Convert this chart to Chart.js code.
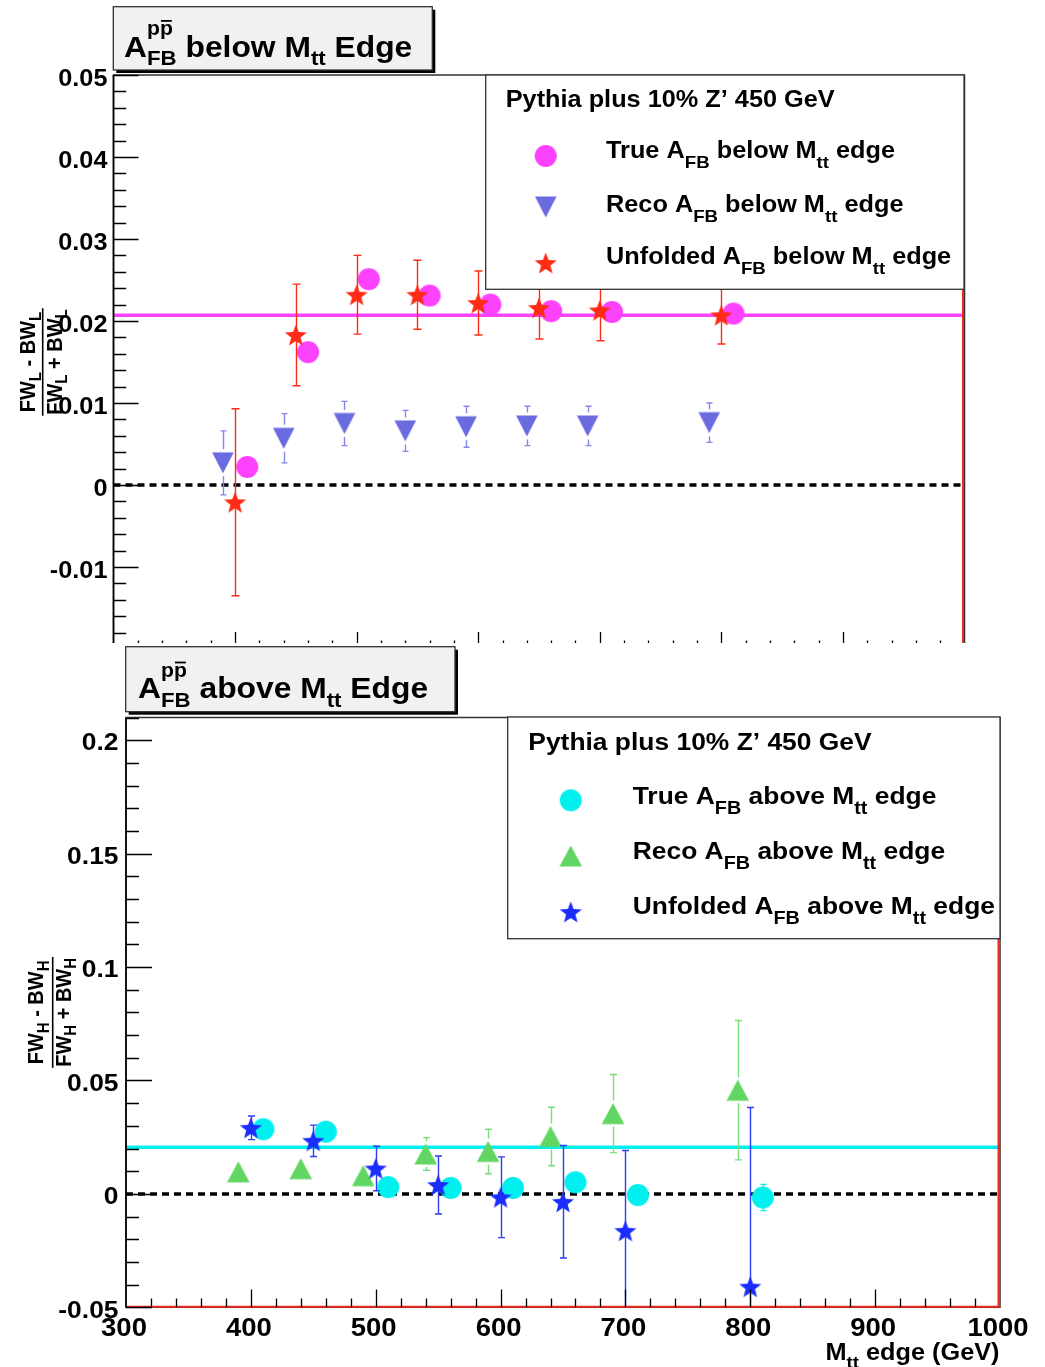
<!DOCTYPE html>
<html>
<head>
<meta charset="utf-8">
<script src="https://cdn.jsdelivr.net/npm/chart.js@4.4.1/dist/chart.umd.min.js"></script>
<style>
  html, body { margin: 0; padding: 0; background: #fff; }
  #wrap { position: relative; width: 1045px; height: 1367px; overflow: hidden; background: #fff; }
  #below { position: absolute; left: 0; top: 0; }
  #above { position: absolute; left: 0; top: 643px; background: #fff; }
</style>
</head>
<body>
<div id="wrap">
  <canvas id="below" width="1045" height="700"></canvas>
  <canvas id="above" width="1045" height="724"></canvas>
</div>
<script>
// ---------- values: asymmetry below the M_tt edge ----------
const trueBelowX   = [410, 460, 510, 560, 610, 660, 710, 810];
const trueBelowY   = [0.0022, 0.0162, 0.0251, 0.0231, 0.0220, 0.0212, 0.0211, 0.0209];
const recoBelowX   = [390, 440, 490, 540, 590, 640, 690, 790];
const recoBelowY   = [0.0027, 0.0057, 0.0075, 0.0066, 0.0071, 0.0072, 0.0072, 0.0076];
const recoBelowErr = [0.0039, 0.0030, 0.0027, 0.0025, 0.0025, 0.0024, 0.0024, 0.0024];
const unfBelowX    = [400, 450, 500, 550, 600, 650, 700, 800];
const unfBelowY    = [-0.0021, 0.0183, 0.0232, 0.0232, 0.0222, 0.0216, 0.0213, 0.0207];
const unfBelowErr  = [0.0114, 0.0062, 0.0048, 0.0042, 0.0039, 0.0038, 0.0037, 0.0035];
const trueBelowMean = 0.0207;

// ---------- values: asymmetry above the M_tt edge ----------
const trueAboveX   = [410, 460, 510, 560, 610, 660, 710, 810];
const trueAboveY   = [0.0285, 0.0274, 0.0030, 0.0026, 0.0026, 0.0051, -0.0005, -0.0016];
const trueAboveErr = [0, 0, 0, 0, 0, 0, 0, 0.0058];
const recoAboveX   = [390, 440, 490, 540, 590, 640, 690, 790];
const recoAboveY   = [0.0097, 0.0111, 0.0080, 0.0176, 0.0187, 0.0253, 0.0354, 0.0457];
const recoAboveErr = [0, 0, 0, 0.0072, 0.0098, 0.0129, 0.0172, 0.0307];
const unfAboveX    = [400, 450, 500, 550, 600, 650, 700, 800];
const unfAboveY    = [0.0291, 0.0234, 0.0112, 0.0039, -0.0015, -0.0035, -0.0163, -0.0409];
const unfAboveErr  = [0.0052, 0.0069, 0.0098, 0.0128, 0.0178, 0.0248, 0.0354, 0.0790];
const trueAboveMean = 0.0205;

// ---------- axes ----------
const massRange   = [300, 1000];
const massTicks   = [300, 400, 500, 600, 700, 800, 900, 1000];
const massMinor   = 20;
const belowRange  = [-0.02, 0.05];
const belowTicks  = [-0.02, -0.01, 0, 0.01, 0.02, 0.03, 0.04, 0.05];
const belowMinor  = 0.002;
const aboveRange  = [-0.05, 0.21];
const aboveTicks  = [-0.05, 0, 0.05, 0.1, 0.15, 0.2];
const aboveMinor  = 0.01;

const legendHeader = 'Pythia plus 10% Z\u2019 450 GeV';

// ---------- styling ----------
const FONT = '"Liberation Sans", Arial, Helvetica, sans-serif';
const SX = 1.1;
const MAGENTA = '#fd42fd', RECO_BLUE = '#6b6be0', RECO_BLUE_ERR = '#8585ea', RED = '#ff2b16';
const CYAN = '#00efef', GREEN = '#62d662', GREEN_ERR = '#79de79', BLUE = '#1b2dfc', BLUE_ERR = '#2c3df8';
const HIST_RED = '#ee2a1e';
function font(px) { return 'bold ' + px + 'px ' + FONT; }

function marker(shape, color) {
  const c = document.createElement('canvas');
  c.width = 26; c.height = 26;
  const g = c.getContext('2d');
  const cx = 13, cy = 13;
  g.fillStyle = color;
  g.beginPath();
  if (shape === 'circle') {
    g.arc(cx, cy, 11, 0, Math.PI * 2);
  } else if (shape === 'up') {
    g.moveTo(cx, cy - 10.5); g.lineTo(cx + 11.3, cy + 10.5); g.lineTo(cx - 11.3, cy + 10.5);
  } else if (shape === 'down') {
    g.moveTo(cx - 10.8, cy - 10.5); g.lineTo(cx + 10.8, cy - 10.5); g.lineTo(cx, cy + 10.5);
  } else {
    for (let k = 0; k < 10; k++) {
      const r = k % 2 ? 4.9 : 11.6;
      const ang = -Math.PI / 2 + k * Math.PI / 5;
      const px = cx + r * Math.cos(ang), py = cy + 1 + r * Math.sin(ang);
      if (k === 0) g.moveTo(px, py); else g.lineTo(px, py);
    }
  }
  g.closePath();
  g.fill();
  return c;
}

const mkTrueBelow = marker('circle', MAGENTA);
const mkRecoBelow = marker('down', RECO_BLUE);
const mkUnfBelow  = marker('star', RED);
const mkTrueAbove = marker('circle', CYAN);
const mkRecoAbove = marker('up', GREEN);
const mkUnfAbove  = marker('star', BLUE);

// Text with sub/superscripts, horizontally stretched by sx
function drawRich(ctx, parts, x, y, st) {
  const sx = st.sx == null ? SX : st.sx;
  const subSize = st.sub, supSize = st.sup || st.sub;
  let w = 0; const pos = [];
  for (const p of parts) {
    pos.push(w);
    if (p.t != null) { ctx.font = font(st.size); w += ctx.measureText(p.t).width; }
    else {
      ctx.font = font(subSize); const ws = p.sub ? ctx.measureText(p.sub).width : 0;
      ctx.font = font(supSize); const wp = p.sup ? ctx.measureText(p.sup).width : 0;
      w += Math.max(ws, wp);
    }
  }
  let x0 = 0;
  if (st.align === 'right') x0 = -w; else if (st.align === 'center') x0 = -w / 2;
  ctx.save();
  ctx.translate(x, y); ctx.scale(sx, 1);
  ctx.textAlign = 'left'; ctx.textBaseline = 'alphabetic';
  parts.forEach((p, i) => {
    const px = x0 + pos[i];
    if (p.t != null) { ctx.font = font(st.size); ctx.fillText(p.t, px, 0); return; }
    if (p.sub) { ctx.font = font(subSize); ctx.fillText(p.sub, px, st.subDy); }
    if (p.sup) {
      ctx.font = font(supSize); ctx.fillText(p.sup, px, st.supDy);
      if (p.bar) {
        const w1 = ctx.measureText(p.sup.slice(0, -1)).width, w2 = ctx.measureText(p.sup).width;
        ctx.fillRect(px + w1 + 1, st.supDy - supSize * 0.76, w2 - w1 - 2, 1.8);
      }
    }
  });
  ctx.restore();
  return w;
}

function fmtTick(v) { return Math.abs(v) < 1e-12 ? '0' : String(parseFloat(v.toFixed(4))); }

// Error bars drawn just before the markers of each dataset
const errorBars = {
  id: 'errorBars',
  beforeDatasetDraw(chart, args) {
    const ds = chart.data.datasets[args.index];
    if (!ds.errors) return;
    const ctx = chart.ctx, a = chart.chartArea, xs = chart.scales.x, ys = chart.scales.y;
    ctx.save();
    ctx.beginPath(); ctx.rect(a.left, a.top, a.right - a.left, a.bottom - a.top); ctx.clip();
    ctx.strokeStyle = ds.errorColor; ctx.lineWidth = 1.4;
    ds.data.forEach((p, i) => {
      const e = ds.errors[i];
      if (!e) return;
      const px = Math.round(xs.getPixelForValue(p.x)) + 0.5;
      const py = ys.getPixelForValue(p.y);
      const top = ys.getPixelForValue(p.y + e), bot = ys.getPixelForValue(p.y - e);
      const gap = ds.errorGap || 0, cw = ds.capWidth / 2;
      ctx.beginPath();
      if (py - gap > top) { ctx.moveTo(px, top); ctx.lineTo(px, py - gap); }
      if (py + gap < bot) { ctx.moveTo(px, py + gap); ctx.lineTo(px, bot); }
      ctx.moveTo(px - cw, top); ctx.lineTo(px + cw, top);
      ctx.moveTo(px - cw, bot); ctx.lineTo(px + cw, bot);
      ctx.stroke();
    });
    ctx.restore();
  }
};

// Frame, inward ticks, labels, title box, legend and axis titles
function makeFrame(cfg) {
  return {
    id: 'frame_' + cfg.name,
    afterDatasetsDraw(chart) {
      const ctx = chart.ctx, a = chart.chartArea, xs = chart.scales.x, ys = chart.scales.y;
      ctx.save();
      // outline
      ctx.strokeStyle = '#333'; ctx.lineWidth = 1.5;
      ctx.strokeRect(a.left, a.top, a.right - a.left, a.bottom - a.top);
      // histogram border along the x floor and at the upper edge
      ctx.strokeStyle = HIST_RED; ctx.lineWidth = 2;
      ctx.beginPath();
      ctx.moveTo(a.left, a.bottom - 0.5); ctx.lineTo(a.right - 1.5, a.bottom - 0.5); ctx.lineTo(a.right - 1.5, a.top);
      ctx.stroke();
      ctx.strokeStyle = '#000'; ctx.lineWidth = 1.6;
      ctx.beginPath(); ctx.moveTo(a.left, a.top); ctx.lineTo(a.left, a.bottom); ctx.stroke();

      // ticks
      ctx.lineWidth = 1.3; ctx.strokeStyle = '#000';
      ctx.beginPath();
      const [ymin, ymax] = cfg.yRange;
      const ny = Math.round((ymax - ymin) / cfg.yMinor);
      for (let k = 0; k <= ny; k++) {
        const v = ymin + k * cfg.yMinor;
        const major = cfg.yTicks.some(t => Math.abs(t - v) < cfg.yMinor / 10);
        const py = Math.round(ys.getPixelForValue(v)) + 0.5;
        ctx.moveTo(a.left, py); ctx.lineTo(a.left + (major ? cfg.yTickLen[0] : cfg.yTickLen[1]), py);
      }
      const nx = Math.round((massRange[1] - massRange[0]) / massMinor);
      for (let k = 1; k < nx; k++) {
        const v = massRange[0] + k * massMinor;
        const major = massTicks.includes(v);
        const px = Math.round(xs.getPixelForValue(v)) + 0.5;
        ctx.moveTo(px, a.bottom); ctx.lineTo(px, a.bottom - (major ? cfg.xTickLen[0] : cfg.xTickLen[1]));
      }
      ctx.stroke();

      // tick labels
      ctx.fillStyle = '#000';
      cfg.yTicks.forEach(t => {
        drawRich(ctx, [{ t: fmtTick(t) }], cfg.yLabel.right, ys.getPixelForValue(t) + cfg.yLabel.dy,
          { size: cfg.yLabel.size, align: 'right' });
      });
      if (cfg.xLabel) {
        massTicks.forEach(t => {
          drawRich(ctx, [{ t: String(t) }], xs.getPixelForValue(t) - 2, a.bottom + cfg.xLabel.dy,
            { size: cfg.xLabel.size, align: 'center' });
        });
      }
      if (cfg.xTitle) {
        drawRich(ctx, [{ t: 'M' }, { sub: 'tt' }, { t: ' edge (GeV)' }], cfg.xTitle.right, cfg.xTitle.base,
          { size: cfg.xTitle.size, sub: 17, subDy: 8, align: 'right' });
      }

      // y-axis title: fraction written bottom to top
      const T = cfg.yTitle, cy = (a.top + a.bottom) / 2;
      let wn = 0, wd = 0;
      ctx.save(); ctx.translate(T.numX, cy); ctx.scale(SX, 1); ctx.rotate(-Math.PI / 2);
      wn = drawRich(ctx, T.num, 0, 0, { size: T.size, sub: T.sub, subDy: T.subDy, sx: 1, align: 'center' });
      ctx.restore();
      ctx.save(); ctx.translate(T.denX, cy); ctx.scale(SX, 1); ctx.rotate(-Math.PI / 2);
      wd = drawRich(ctx, T.den, 0, 0, { size: T.size, sub: T.sub, subDy: T.subDy, sx: 1, align: 'center' });
      ctx.restore();
      const L = Math.max(wn, wd) + 2;
      ctx.fillRect(T.barX - 0.8, cy - L / 2, 1.6, L);

      // title box with drop shadow
      const B = cfg.titleBox;
      ctx.fillStyle = '#000'; ctx.fillRect(B.x + 3, B.y + 3, B.w, B.h);
      ctx.fillStyle = '#f1f1f1'; ctx.fillRect(B.x, B.y, B.w, B.h);
      ctx.strokeStyle = '#333'; ctx.lineWidth = 1.3; ctx.strokeRect(B.x, B.y, B.w, B.h);
      ctx.fillStyle = '#000';
      drawRich(ctx, B.parts, B.textX, B.base, { size: 30, sub: 21, subDy: 8.5, sup: 20, supDy: -21.5, sx: 1.06 });

      // legend
      const G = cfg.legend;
      ctx.fillStyle = '#fff'; ctx.fillRect(G.x, G.y, G.w, G.h);
      ctx.strokeStyle = '#333'; ctx.lineWidth = 1.3; ctx.strokeRect(G.x, G.y, G.w, G.h);
      ctx.fillStyle = '#000';
      drawRich(ctx, [{ t: legendHeader }], G.titleX, G.titleBase, { size: G.size });
      G.rows.forEach(r => {
        ctx.drawImage(r.img, G.markerX - r.img.width / 2, r.my - r.img.height / 2);
        drawRich(ctx, r.parts, G.textX, r.base, { size: G.size, sub: G.sub, subDy: G.subDy });
      });
      ctx.restore();
    }
  };
}

function pts(xs, ys) { return xs.map((x, i) => ({ x, y: ys[i] })); }

function hLine(y, color, dash) {
  return {
    type: 'line', data: [{ x: massRange[0], y }, { x: massRange[1], y }],
    borderColor: color, borderWidth: dash ? 3.5 : 3.5, borderDash: dash || [], pointRadius: 0,
    showLine: true, fill: false, order: dash ? 9 : 10
  };
}

function makeChart(canvas, datasets, yRange, pad, cfg) {
  return new Chart(canvas, {
    type: 'scatter',
    data: { datasets },
    options: {
      responsive: false, animation: false, devicePixelRatio: 1, events: [],
      layout: { padding: pad },
      scales: {
        x: { type: 'linear', min: massRange[0], max: massRange[1], display: false },
        y: { type: 'linear', min: yRange[0], max: yRange[1], display: false }
      },
      plugins: { legend: { display: false }, tooltip: { enabled: false }, title: { display: false } },
      elements: { point: { radius: 11, borderWidth: 0 } }
    },
    plugins: [errorBars, makeFrame(cfg)]
  });
}

// ---------- chart: below the edge ----------
makeChart(document.getElementById('below'), [
  hLine(trueBelowMean, MAGENTA),
  hLine(0, '#000', [7, 5]),
  { label: 'True', data: pts(trueBelowX, trueBelowY), pointStyle: mkTrueBelow, order: 3 },
  { label: 'Reco', data: pts(recoBelowX, recoBelowY), pointStyle: mkRecoBelow, order: 2,
    errors: recoBelowErr, errorColor: RECO_BLUE_ERR, errorGap: 13.5, capWidth: 6 },
  { label: 'Unfolded', data: pts(unfBelowX, unfBelowY), pointStyle: mkUnfBelow, order: 1,
    errors: unfBelowErr, errorColor: RED, errorGap: 0, capWidth: 8 }
], belowRange, { left: 113.5, right: 80.5, top: 75, bottom: 51 }, {
  name: 'below', yRange: belowRange, yTicks: belowTicks, yMinor: belowMinor,
  yTickLen: [25, 12.7], xTickLen: [17, 8.5],
  yLabel: { size: 23, right: 107.5, dy: 11.3 },
  xLabel: null, xTitle: null,
  yTitle: {
    numX: 35, denX: 61.5, barX: 42.7, size: 20, sub: 15, subDy: 5,
    num: [{ t: 'FW' }, { sub: 'L' }, { t: ' - BW' }, { sub: 'L' }],
    den: [{ t: 'FW' }, { sub: 'L' }, { t: ' + BW' }, { sub: 'L' }]
  },
  titleBox: {
    x: 113.3, y: 6.7, w: 319, h: 63.3, textX: 124, base: 56.7,
    parts: [{ t: 'A' }, { sub: 'FB', sup: 'pp', bar: true }, { t: ' below M' }, { sub: 'tt' }, { t: ' Edge' }]
  },
  legend: {
    x: 485.7, y: 75, w: 478.3, h: 214.3, size: 23, sub: 17, subDy: 10,
    titleX: 505.7, titleBase: 106.7, markerX: 545.7, textX: 606,
    rows: [
      { img: mkTrueBelow, my: 156, base: 158.3,
        parts: [{ t: 'True A' }, { sub: 'FB' }, { t: ' below M' }, { sub: 'tt' }, { t: ' edge' }] },
      { img: mkRecoBelow, my: 207, base: 211.7,
        parts: [{ t: 'Reco A' }, { sub: 'FB' }, { t: ' below M' }, { sub: 'tt' }, { t: ' edge' }] },
      { img: mkUnfBelow, my: 263, base: 264.3,
        parts: [{ t: 'Unfolded A' }, { sub: 'FB' }, { t: ' below M' }, { sub: 'tt' }, { t: ' edge' }] }
    ]
  }
});

// ---------- chart: above the edge ----------
makeChart(document.getElementById('above'), [
  hLine(trueAboveMean, CYAN),
  hLine(0, '#000', [7, 5]),
  { label: 'True', data: pts(trueAboveX, trueAboveY), pointStyle: mkTrueAbove, order: 3,
    errors: trueAboveErr, errorColor: CYAN, errorGap: 0, capWidth: 6 },
  { label: 'Reco', data: pts(recoAboveX, recoAboveY), pointStyle: mkRecoAbove, order: 2,
    errors: recoAboveErr, errorColor: GREEN_ERR, errorGap: 13, capWidth: 7 },
  { label: 'Unfolded', data: pts(unfAboveX, unfAboveY), pointStyle: mkUnfAbove, order: 1,
    errors: unfAboveErr, errorColor: BLUE_ERR, errorGap: 0, capWidth: 7 }
], aboveRange, { left: 126, right: 45, top: 74.5, bottom: 59.7 }, {
  name: 'above', yRange: aboveRange, yTicks: aboveTicks, yMinor: aboveMinor,
  yTickLen: [26, 13], xTickLen: [17.7, 8.8],
  yLabel: { size: 24, right: 118.5, dy: 10.3 },
  xLabel: { size: 25, dy: 28.2 },
  xTitle: { size: 23, right: 999.5, base: 717 },
  yTitle: {
    numX: 43.3, denX: 70.5, barX: 52.7, size: 20, sub: 15, subDy: 5,
    num: [{ t: 'FW' }, { sub: 'H' }, { t: ' - BW' }, { sub: 'H' }],
    den: [{ t: 'FW' }, { sub: 'H' }, { t: ' + BW' }, { sub: 'H' }]
  },
  titleBox: {
    x: 125.7, y: 3.7, w: 329.3, h: 65, textX: 138, base: 55.3,
    parts: [{ t: 'A' }, { sub: 'FB', sup: 'pp', bar: true }, { t: ' above M' }, { sub: 'tt' }, { t: ' Edge' }]
  },
  legend: {
    x: 507.7, y: 74, w: 492.3, h: 221.7, size: 24, sub: 18, subDy: 10,
    titleX: 528.3, titleBase: 107.3, markerX: 570.7, textX: 632.7,
    rows: [
      { img: mkTrueAbove, my: 157.3, base: 160.7,
        parts: [{ t: 'True A' }, { sub: 'FB' }, { t: ' above M' }, { sub: 'tt' }, { t: ' edge' }] },
      { img: mkRecoAbove, my: 213, base: 215.7,
        parts: [{ t: 'Reco A' }, { sub: 'FB' }, { t: ' above M' }, { sub: 'tt' }, { t: ' edge' }] },
      { img: mkUnfAbove, my: 269, base: 271.3,
        parts: [{ t: 'Unfolded A' }, { sub: 'FB' }, { t: ' above M' }, { sub: 'tt' }, { t: ' edge' }] }
    ]
  }
});
</script>
</body>
</html>
